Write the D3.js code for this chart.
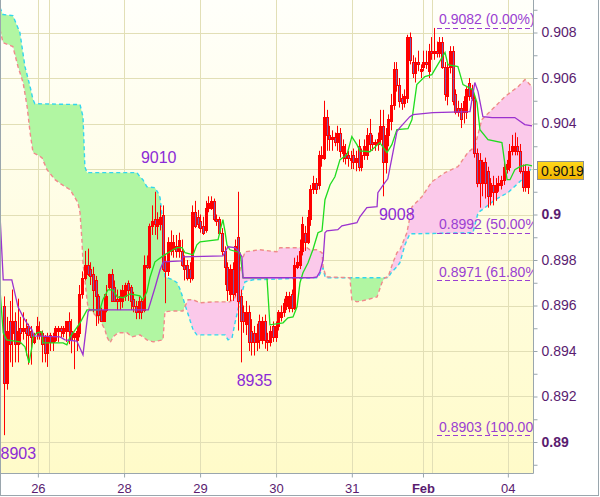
<!DOCTYPE html>
<html>
<head>
<meta charset="utf-8">
<script src="https://cdn.jsdelivr.net/npm/d3@7"></script>
<style>
  html, body { margin: 0; padding: 0; background: #ffffff; }
  svg { display: block; font-family: "Liberation Sans", Arial, sans-serif; }
</style>
</head>
<body>
<svg id="chart" width="600" height="497"></svg>
<script>
// ---- Price bars (one per period) ----
const openP = [
0.8960,0.8926,0.8953,0.8948,0.8953,0.8943,0.8950,0.8949,0.8950,0.8951,
0.8949,0.8944,0.8948,0.8949,0.8948,0.8946,0.8939,0.8947,0.8944,0.8945,
0.8949,0.8950,0.8948,0.8949,0.8953,0.8949,0.8946,0.8945,0.8948,0.8965,
0.8972,0.8978,0.8976,0.8974,0.8971,0.8964,0.8958,0.8953,0.8958,0.8968,
0.8974,0.8968,0.8963,0.8962,0.8962,0.8964,0.8970,0.8968,0.8963,0.8960,
0.8957,0.8962,0.8958,0.8978,0.8977,0.8995,0.8998,0.8995,0.8996,0.9000,
0.8979,0.8975,0.8984,0.8985,0.8986,0.8984,0.8984,0.8978,0.8978,0.8976,
0.8972,0.9001,0.8999,0.8997,0.8995,0.8993,0.9003,0.9003,0.9006,0.8998,
0.8998,0.8992,0.8984,0.8977,0.8965,0.8976,0.8966,0.8990,0.8964,0.8957,
0.8952,0.8957,0.8949,0.8948,0.8944,0.8953,0.8945,0.8953,0.8945,0.8944,
0.8951,0.8946,0.8951,0.8955,0.8957,0.8960,0.8959,0.8965,0.8959,0.8977,
0.8978,0.8984,0.8992,0.8988,0.8998,0.9011,0.9014,0.9013,0.9025,0.9025,
0.9043,0.9035,0.9033,0.9034,0.9032,0.9036,0.9027,0.9027,0.9026,0.9024,
0.9026,0.9023,0.9030,0.9021,0.9026,0.9026,0.9036,0.9032,0.9031,0.9031,
0.9033,0.9039,0.9023,0.9035,0.9041,0.9048,0.9064,0.9057,0.9051,0.9049,
0.9051,0.9078,0.9067,0.9062,0.9067,0.9063,0.9065,0.9067,0.9063,0.9072,
0.9071,0.9072,0.9071,0.9076,0.9065,0.9052,0.9065,0.9072,0.9053,0.9047,
0.9047,0.9045,0.9045,0.9058,0.9055,0.9051,0.9027,0.9024,0.9014,0.9023,
0.9019,0.9008,0.9013,0.9010,0.9013,0.9013,0.9015,0.9020,0.9021,0.9028,
0.9028,0.9030,0.9028,0.9019,0.9012,0.9012];
const highP = [
0.8964,0.8955,0.8962,0.8967,0.8957,0.8963,0.8955,0.8957,0.8954,0.8952,
0.8951,0.8948,0.8955,0.8953,0.8949,0.8947,0.8948,0.8948,0.8948,0.8951,
0.8951,0.8951,0.8951,0.8953,0.8957,0.8954,0.8948,0.8951,0.8969,0.8975,
0.8984,0.8985,0.8979,0.8977,0.8973,0.8965,0.8959,0.8965,0.8969,0.8974,
0.8976,0.8971,0.8967,0.8967,0.8969,0.8970,0.8971,0.8969,0.8966,0.8962,
0.8964,0.8963,0.8982,0.8982,0.8996,0.9004,0.9010,0.9001,0.9004,0.9004,
0.8982,0.8990,0.8993,0.8991,0.8991,0.8992,0.8989,0.8982,0.8980,0.8979,
0.9004,0.9006,0.9002,0.9000,0.8999,0.9006,0.9008,0.9008,0.9007,0.9000,
0.8999,0.8994,0.8986,0.8979,0.8978,0.8979,0.8989,0.9010,0.8967,0.8960,
0.8962,0.8960,0.8954,0.8951,0.8952,0.8956,0.8955,0.8956,0.8948,0.8951,
0.8953,0.8953,0.8958,0.8960,0.8963,0.8966,0.8966,0.8967,0.8981,0.8982,
0.8989,0.8999,0.8995,0.9002,0.9013,0.9017,0.9016,0.9028,0.9030,0.9050,
0.9046,0.9039,0.9037,0.9036,0.9039,0.9038,0.9033,0.9031,0.9028,0.9028,
0.9029,0.9028,0.9033,0.9029,0.9033,0.9038,0.9042,0.9035,0.9033,0.9036,
0.9046,0.9046,0.9038,0.9044,0.9053,0.9067,0.9067,0.9060,0.9053,0.9055,
0.9079,0.9080,0.9070,0.9069,0.9072,0.9066,0.9072,0.9072,0.9075,0.9078,
0.9082,0.9076,0.9078,0.9078,0.9067,0.9067,0.9074,0.9074,0.9055,0.9050,
0.9049,0.9052,0.9056,0.9060,0.9057,0.9053,0.9029,0.9027,0.9024,0.9025,
0.9021,0.9016,0.9017,0.9016,0.9017,0.9017,0.9024,0.9024,0.9031,0.9035,
0.9036,0.9034,0.9031,0.9022,0.9022,0.9021];
const lowP = [
0.8903,0.8923,0.8935,0.8933,0.8935,0.8935,0.8943,0.8945,0.8938,0.8934,
0.8934,0.8943,0.8945,0.8945,0.8935,0.8935,0.8933,0.8940,0.8940,0.8944,
0.8944,0.8946,0.8946,0.8944,0.8943,0.8939,0.8932,0.8940,0.8946,0.8963,
0.8971,0.8973,0.8969,0.8957,0.8951,0.8952,0.8953,0.8953,0.8957,0.8967,
0.8962,0.8962,0.8958,0.8958,0.8959,0.8962,0.8962,0.8958,0.8957,0.8954,
0.8954,0.8954,0.8957,0.8976,0.8976,0.8991,0.8991,0.8989,0.8993,0.8975,
0.8961,0.8973,0.8982,0.8981,0.8981,0.8981,0.8977,0.8971,0.8971,0.8970,
0.8971,0.8994,0.8994,0.8992,0.8991,0.8992,0.9001,0.9002,0.8997,0.8995,
0.8991,0.8982,0.8969,0.8962,0.8962,0.8962,0.8964,0.8949,0.8935,0.8948,
0.8947,0.8940,0.8938,0.8938,0.8940,0.8941,0.8943,0.8941,0.8940,0.8942,
0.8944,0.8944,0.8949,0.8953,0.8955,0.8958,0.8957,0.8957,0.8958,0.8976,
0.8976,0.8982,0.8984,0.8987,0.8995,0.9009,0.9009,0.9011,0.9021,0.9024,
0.9028,0.9028,0.9028,0.9030,0.9028,0.9025,0.9023,0.9022,0.9021,0.9020,
0.9020,0.9019,0.9019,0.9019,0.9024,0.9024,0.9028,0.9028,0.9028,0.9028,
0.9031,0.9008,0.9018,0.9030,0.9037,0.9046,0.9054,0.9047,0.9046,0.9047,
0.9049,0.9066,0.9060,0.9058,0.9063,0.9060,0.9063,0.9064,0.9060,0.9068,
0.9068,0.9069,0.9069,0.9064,0.9050,0.9048,0.9062,0.9048,0.9044,0.9043,
0.9038,0.9040,0.9042,0.9050,0.9050,0.9025,0.9012,0.9003,0.9008,0.9007,
0.9003,0.9004,0.9004,0.9006,0.9010,0.9011,0.9013,0.9018,0.9019,0.9026,
0.9026,0.9026,0.9018,0.9010,0.9010,0.9009];
const closeP = [
0.8926,0.8949,0.8943,0.8953,0.8943,0.8949,0.8948,0.8950,0.8948,0.8947,
0.8946,0.8946,0.8951,0.8947,0.8943,0.8939,0.8946,0.8944,0.8946,0.8950,
0.8950,0.8949,0.8950,0.8953,0.8949,0.8945,0.8948,0.8949,0.8965,0.8972,
0.8978,0.8974,0.8973,0.8967,0.8964,0.8956,0.8953,0.8958,0.8964,0.8974,
0.8962,0.8962,0.8962,0.8964,0.8967,0.8969,0.8967,0.8962,0.8960,0.8957,
0.8962,0.8957,0.8978,0.8977,0.8995,0.8997,0.8996,0.8998,0.8999,0.8976,
0.8975,0.8988,0.8988,0.8988,0.8984,0.8989,0.8978,0.8976,0.8972,0.8972,
0.9001,0.8995,0.8996,0.8994,0.8992,0.9003,0.9005,0.9006,0.8998,0.8997,
0.8992,0.8984,0.8977,0.8967,0.8976,0.8965,0.8986,0.8962,0.8953,0.8953,
0.8957,0.8944,0.8944,0.8944,0.8948,0.8945,0.8953,0.8945,0.8944,0.8949,
0.8946,0.8951,0.8957,0.8957,0.8961,0.8964,0.8964,0.8959,0.8978,0.8979,
0.8984,0.8996,0.8988,0.8999,0.9011,0.9014,0.9011,0.9026,0.9026,0.9043,
0.9035,0.9033,0.9034,0.9032,0.9036,0.9028,0.9030,0.9025,0.9025,0.9025,
0.9023,0.9025,0.9021,0.9026,0.9030,0.9035,0.9031,0.9031,0.9032,0.9033,
0.9039,0.9023,0.9035,0.9042,0.9048,0.9064,0.9057,0.9050,0.9049,0.9052,
0.9078,0.9068,0.9062,0.9067,0.9066,0.9064,0.9067,0.9066,0.9072,0.9071,
0.9072,0.9071,0.9076,0.9065,0.9053,0.9065,0.9072,0.9050,0.9045,0.9045,
0.9042,0.9050,0.9055,0.9052,0.9051,0.9027,0.9014,0.9014,0.9023,0.9014,
0.9008,0.9014,0.9010,0.9013,0.9014,0.9015,0.9021,0.9022,0.9028,0.9030,
0.9030,0.9028,0.9019,0.9012,0.9019,0.9019];

// ---- Ichimoku lines: [bar index, price] vertices ----
const tenkanSen = [
[-1.6,0.89669],[-0.4,0.8948],[0.9,0.89449],[5.8,0.8944],[7.7,0.89418],[9.2,0.89348],
[10.3,0.89418],[10.7,0.89462],[12.2,0.8948],[14,0.89484],[14.4,0.89436],[21.9,0.89436],
[23.3,0.89427],[24.5,0.89462],[25.6,0.8948],[28.2,0.89524],[30.8,0.89581],[35.6,0.89581],
[36.7,0.89625],[38.6,0.89669],[40.5,0.89669],[42,0.89638],[44.2,0.89634],[46.8,0.89651],
[50.5,0.89642],[51.6,0.89625],[53.1,0.8966],[54.2,0.89722],[56.1,0.89792],[59.1,0.89818],
[62.8,0.89845],[64.3,0.89854],[66.2,0.89854],[67.3,0.89832],[70.3,0.89823],[71.7,0.89867],
[72.9,0.8988],[79.6,0.89889],[80.7,0.89946],[81.4,0.89977],[82.2,0.89924],[82.9,0.89867],
[84,0.89845],[87.8,0.89832],[88.9,0.89722],[97.8,0.89722],[98.9,0.89515],[103.8,0.89524],
[105.6,0.89546],[107.5,0.8955],[109,0.89594],[110.1,0.897],[111.2,0.89744],[113.1,0.89788],
[114.9,0.89845],[116.8,0.8992],[118.3,0.89928],[119.4,0.90065],[121.3,0.90131],[123.1,0.90166],
[125,0.90241],[127.6,0.90263],[129.4,0.90342],[131.3,0.90307],[132.4,0.9028],[136.1,0.90276],
[139.8,0.90316],[142.5,0.90272],[144.3,0.90307],[146.2,0.90373],[150.3,0.90377],[151.8,0.90417],
[153.6,0.90571],[156.6,0.90606],[159.2,0.90615],[161.4,0.90659],[164.1,0.90712],[165.2,0.90659],
[168.9,0.9065],[170.8,0.90571],[174.5,0.90549],[176,0.90492],[177.1,0.90373],[180.1,0.90329],
[185.3,0.90316],[187.2,0.90153],[188.3,0.90153],[190.1,0.90197],[192,0.9021],[194.6,0.90219],
[196.5,0.90214]];
const kijunSen = [
[-1.6,0.89999],[-0.4,0.89713],[2.8,0.89713],[5.1,0.89594],[7,0.8955],[8.8,0.89515],
[10.3,0.89493],[11,0.89466],[20.7,0.89462],[22.6,0.89449],[27,0.89444],[29.3,0.89383],
[30.4,0.89493],[31.2,0.89572],[31.8,0.89581],[53.6,0.89581],[56.1,0.89678],[58,0.89757],
[59.2,0.89792],[66,0.89796],[66.5,0.89814],[81.4,0.89818],[83.3,0.89858],[85.9,0.89854],
[87.4,0.89836],[88.5,0.89814],[88.9,0.89722],[114.9,0.89722],[116.4,0.89726],[117.5,0.89748],
[118.7,0.89801],[119.4,0.8992],[120.1,0.89928],[124.2,0.89933],[125.7,0.8995],[131.3,0.89964],
[132.4,0.8999],[135,0.9003],[138.8,0.90034],[139.1,0.90096],[141.7,0.9014],[142.8,0.90157],
[144.7,0.90272],[146.2,0.90364],[147.3,0.90382],[151,0.9043],[152.2,0.90439],[159.6,0.90448],
[173.4,0.90452],[175.2,0.9058],[176.4,0.9054],[178.2,0.9043],[181.6,0.90426],[190.1,0.90426],
[193.8,0.90395],[196.5,0.9039]];
const senkouA = [
[-1.6,0.9091],[-0.5,0.90879],[3.2,0.90874],[5.8,0.908],[7.7,0.9065],[9.6,0.90562],
[10.7,0.90505],[11.4,0.90487],[28.2,0.90483],[29.3,0.9043],[30,0.9021],[30.8,0.90184],
[49.4,0.90184],[50.5,0.90166],[51.6,0.90153],[53.1,0.90122],[56.1,0.90118],[57.2,0.90096],
[58,0.90074],[58.7,0.89999],[59.1,0.89854],[59.8,0.89726],[62.8,0.89713],[64.3,0.897],
[65.4,0.89673],[66.5,0.89634],[67.3,0.89603],[70.3,0.89493],[71.7,0.89471],[82.2,0.89471],
[83.3,0.89449],[84.8,0.89458],[85.9,0.89524],[87,0.89581],[88.5,0.89656],[89.6,0.89704],
[92.6,0.89713],[116.8,0.89722],[118.3,0.89757],[118.7,0.89766],[119.4,0.89726],[120.1,0.89722],
[142.9,0.89722],[144.3,0.89748],[146.2,0.8977],[147.3,0.89788],[149.2,0.89867],[151,0.89915],
[174.5,0.8992],[176.4,0.90008],[179,0.9003],[182.7,0.90065],[187.5,0.90096],[192.7,0.90153],
[196.5,0.90206]];
const senkouB = [
[-1.6,0.90813],[-0.5,0.90756],[3.2,0.90738],[5.1,0.9065],[7,0.9058],[8.5,0.90474],
[9.6,0.9036],[10.7,0.90272],[14,0.9025],[15.9,0.90197],[18.9,0.90153],[21.5,0.90131],
[24.5,0.90109],[26.3,0.90074],[27.4,0.90052],[28.2,0.90008],[28.9,0.89889],[29.3,0.89788],
[30,0.89713],[30.8,0.89625],[31.2,0.8959],[34.5,0.8955],[35.6,0.89537],[37.5,0.89493],
[38.2,0.89462],[39.4,0.89436],[40.5,0.89462],[42.3,0.8948],[45.7,0.8948],[47.5,0.89462],
[50.5,0.89471],[53.1,0.89449],[55.4,0.8944],[59.1,0.89449],[59.8,0.89572],[62.4,0.89576],
[66.5,0.89576],[68.4,0.89625],[70.3,0.89625],[72.9,0.89612],[77.7,0.89616],[84,0.89616],
[85.9,0.89634],[87.8,0.89757],[88.9,0.8981],[89.6,0.89836],[95.2,0.89845],[101.5,0.89836],
[102.6,0.89854],[112.7,0.89854],[113.8,0.89845],[116.4,0.89845],[118.3,0.89832],[118.7,0.8977],
[119.8,0.89726],[128.7,0.89722],[129.4,0.89625],[131.3,0.89616],[135,0.89625],[138.8,0.89638],
[140.6,0.897],[141.7,0.89722],[142.9,0.89726],[144.7,0.89788],[146.2,0.89832],[147.3,0.89845],
[149.9,0.8992],[151.8,0.90034],[155.5,0.90078],[159.2,0.90144],[164.1,0.90184],[168.9,0.9021],
[172.6,0.90272],[175.2,0.90298],[177.8,0.90417],[181.6,0.90461],[186.4,0.90518],[191.3,0.90562],
[193.9,0.90593],[196.5,0.90562]];

// ---- Fibonacci retracement levels ----
const fibPrices = [0.9082, 0.8992, 0.8971, 0.8903];
const fibRatios = ["0.00%", "50.00%", "61.80%", "100.00%"];

// ---- Axis ticks ----
const yTickLabels = ["0.89","0.892","0.894","0.896","0.898","0.9","0.902","0.904","0.906","0.908"];
const yMinorTicks = [0.889,0.891,0.893,0.895,0.897,0.899,0.901,0.903,0.905,0.907,0.909];
const dayLabels = ["26","28","29","30","31","Feb","04"];
const dayTickIndex = [12.5, 44.6, 72.9, 101.2, 129.4, 155.9, 187.5];
const weekBreakIndex = [16.6, 159.2];

// ---- Extreme markers: [bar index, which price] ----
const extremeMarks = [[56, "high"], [88, "low"], [141, "low"], [0, "low"]];

// ================= drawing =================
const svg = d3.select("#chart");
const PL = 0, PR = 533, PT = 0, PB = 473;
const x = d3.scaleLinear().domain([0, 195]).range([4.3, 528]);
const y = d3.scaleLinear().domain([0.89, 0.908]).range([442, 32.5]);

const defs = svg.append("defs");
const bg = defs.append("linearGradient").attr("id", "bgGrad")
  .attr("x1", 0).attr("y1", 0).attr("x2", 0).attr("y2", 1);
bg.append("stop").attr("offset", "0%").attr("stop-color", "#fffffa");
bg.append("stop").attr("offset", "100%").attr("stop-color", "#fffbc9");
const gold = defs.append("linearGradient").attr("id", "goldGrad")
  .attr("x1", 0).attr("y1", 0).attr("x2", 0).attr("y2", 1);
gold.append("stop").attr("offset", "0%").attr("stop-color", "#ffd81a");
gold.append("stop").attr("offset", "100%").attr("stop-color", "#f2b400");
defs.append("clipPath").attr("id", "plotClip")
  .append("rect").attr("x", PL).attr("y", PT).attr("width", PR - PL).attr("height", PB - PT);

svg.append("rect").attr("width", 600).attr("height", 497).attr("fill", "#ffffff");
svg.append("rect").attr("x", PL).attr("y", PT).attr("width", PR - PL).attr("height", PB - PT)
  .attr("fill", "url(#bgGrad)");

const plot = svg.append("g").attr("clip-path", "url(#plotClip)");

// grid
const gridColor = "#e2dfb6";
const yMajor = yTickLabels.map(Number);
plot.selectAll(".hgrid").data(yMajor).join("line")
  .attr("x1", PL).attr("x2", PR)
  .attr("y1", d => Math.round(y(d)) + 0.5).attr("y2", d => Math.round(y(d)) + 0.5)
  .attr("stroke", gridColor).attr("stroke-width", 1);
plot.selectAll(".vgrid").data(dayTickIndex.concat(weekBreakIndex)).join("line")
  .attr("x1", d => Math.round(x(d)) + 0.5).attr("x2", d => Math.round(x(d)) + 0.5)
  .attr("y1", PT).attr("y2", PB)
  .attr("stroke", gridColor).attr("stroke-width", 1);

// cloud: band between the two spans, green where span A is on top, pink where span B is
const px = pts => pts.map(d => [x(d[0]), y(d[1])]);
const aPix = px(senkouA), bPix = px(senkouB);
const line = d3.line();
const bandPath = line(aPix.concat(bPix.slice().reverse())) + "Z";
const x0 = bPix[0][0], x1 = bPix[bPix.length - 1][0];
const abovePath = line(bPix.concat([[x1, -20], [x0, -20]])) + "Z";
const belowPath = line(bPix.concat([[x1, 520], [x0, 520]])) + "Z";
defs.append("clipPath").attr("id", "clipAbove").append("path").attr("d", abovePath);
defs.append("clipPath").attr("id", "clipBelow").append("path").attr("d", belowPath);
plot.append("path").attr("d", bandPath).attr("fill", "#b1f6a2").attr("clip-path", "url(#clipAbove)");
plot.append("path").attr("d", bandPath).attr("fill", "#fbc9ea").attr("clip-path", "url(#clipBelow)");
plot.append("path").attr("d", line(aPix)).attr("fill", "none")
  .attr("stroke", "#33d6ee").attr("stroke-width", 1.4).attr("stroke-dasharray", "4,3");
plot.append("path").attr("d", line(bPix)).attr("fill", "none")
  .attr("stroke", "#f08a8a").attr("stroke-width", 1.4).attr("stroke-dasharray", "4,3");

// candles
const bars = d3.range(openP.length).map(i => ({
  i, o: openP[i], h: highP[i], l: lowP[i], c: closeP[i]
}));
const cg = plot.append("g");
cg.selectAll(".wick").data(bars).join("line")
  .attr("x1", d => Math.round(x(d.i)) + 0.5).attr("x2", d => Math.round(x(d.i)) + 0.5)
  .attr("y1", d => y(d.h)).attr("y2", d => y(d.l))
  .attr("stroke", "#ff0000").attr("stroke-width", 1);
cg.selectAll(".body").data(bars).join("rect")
  .attr("x", d => Math.round(x(d.i)) - 0.5)
  .attr("width", 2)
  .attr("y", d => Math.round(y(Math.max(d.o, d.c))) + 0.5)
  .attr("height", d => Math.max(1, Math.round(y(Math.min(d.o, d.c))) - Math.round(y(Math.max(d.o, d.c)))))
  .attr("fill", d => d.c < d.o ? "#7a5aa8" : "none")
  .attr("stroke", "#ff0000").attr("stroke-width", 1);

// tenkan / kijun
plot.append("path").attr("d", line(px(tenkanSen))).attr("fill", "none")
  .attr("stroke", "#1fdc1f").attr("stroke-width", 1.3);
plot.append("path").attr("d", line(px(kijunSen))).attr("fill", "none")
  .attr("stroke", "#9b32cf").attr("stroke-width", 1.3);

// fibonacci levels
const fibColor = "#9a3fd2";
fibPrices.forEach((p, k) => {
  const yy = Math.round(y(p)) + 0.5;
  plot.append("line").attr("x1", 437).attr("x2", PR).attr("y1", yy).attr("y2", yy)
    .attr("stroke", fibColor).attr("stroke-width", 1.2).attr("stroke-dasharray", "5,3");
  plot.append("text").attr("x", 439).attr("y", y(p) - 3.5)
    .attr("font-size", 14).attr("fill", fibColor)
    .text(d3.format(".4f")(p) + " (" + fibRatios[k] + ")");
});

// extreme price markers
const markColor = "#8c2bd6";
extremeMarks.forEach(([i, kind]) => {
  const v = kind === "high" ? highP[i] : lowP[i];
  const t = Math.round(v * 10000).toString();
  const isHigh = kind === "high";
  plot.append("text")
    .attr("x", isHigh ? x(i) + 4 : Math.max(0.5, x(i) - 4))
    .attr("y", isHigh ? y(v) - 29 : y(v) + 24)
    .attr("text-anchor", isHigh ? "middle" : "start")
    .attr("font-size", 16).attr("fill", markColor)
    .text(t);
});

// frame
const frameColor = "#9aa6ad";
svg.append("line").attr("x1", PR + 0.5).attr("x2", PR + 0.5).attr("y1", 0).attr("y2", PB + 0.5)
  .attr("stroke", frameColor);
svg.append("line").attr("x1", 0).attr("x2", PR + 0.5).attr("y1", PB + 0.5).attr("y2", PB + 0.5)
  .attr("stroke", frameColor);
svg.append("line").attr("x1", 0.5).attr("x2", 0.5).attr("y1", 0).attr("y2", 496)
  .attr("stroke", frameColor);
svg.append("line").attr("x1", 598.5).attr("x2", 598.5).attr("y1", 0).attr("y2", 496)
  .attr("stroke", frameColor);
svg.append("line").attr("x1", 0).attr("x2", 599).attr("y1", 495.5).attr("y2", 495.5)
  .attr("stroke", frameColor);

// last price (its tag replaces any axis label it would cover)
const last = closeP[closeP.length - 1];
const ly = y(last);

// y axis
const labelColor = "#5a1c70";
const yAxis = d3.axisRight(y).tickValues(yMajor).tickSize(4).tickPadding(4)
  .tickFormat((d, k) => Math.abs(y(d) - ly) < 14 ? "" : yTickLabels[k]);
const gy = svg.append("g").attr("transform", `translate(${PR + 0.5},0)`).call(yAxis);
gy.select(".domain").remove();
gy.selectAll(".tick line").attr("stroke", frameColor);
gy.selectAll(".tick text").attr("font-size", 14).attr("fill", labelColor)
  .attr("font-family", "Liberation Sans, Arial, sans-serif")
  .attr("font-weight", (d, k) => yTickLabels[k].length <= 4 ? "bold" : "normal");
const yMinor = d3.axisRight(y).tickValues(yMinorTicks).tickSize(4).tickFormat("");
const gym = svg.append("g").attr("transform", `translate(${PR + 0.5},0)`).call(yMinor);
gym.select(".domain").remove();
gym.selectAll(".tick line").attr("stroke", frameColor);

// x axis
const xAxis = d3.axisBottom(x).tickValues(dayTickIndex).tickSize(4).tickPadding(6)
  .tickFormat((d, k) => dayLabels[k]);
const gx = svg.append("g").attr("transform", `translate(0,${PB + 0.5})`).call(xAxis);
gx.select(".domain").remove();
gx.selectAll(".tick line").attr("stroke", frameColor);
gx.selectAll(".tick text").attr("font-size", 13).attr("fill", labelColor)
  .attr("font-family", "Liberation Sans, Arial, sans-serif")
  .attr("font-weight", (d, k) => /^[A-Za-z]/.test(dayLabels[k]) ? "bold" : "normal");

// last price tag
svg.append("rect").attr("x", 537.5).attr("y", Math.round(ly) - 9.5).attr("width", 46).attr("height", 18)
  .attr("fill", "url(#goldGrad)").attr("stroke", "#8a8f94").attr("stroke-width", 1);
svg.append("text").attr("x", 541).attr("y", ly + 5).attr("font-size", 14).attr("fill", "#111")
  .text(d3.format(".4f")(last));
</script>
</body>
</html>
